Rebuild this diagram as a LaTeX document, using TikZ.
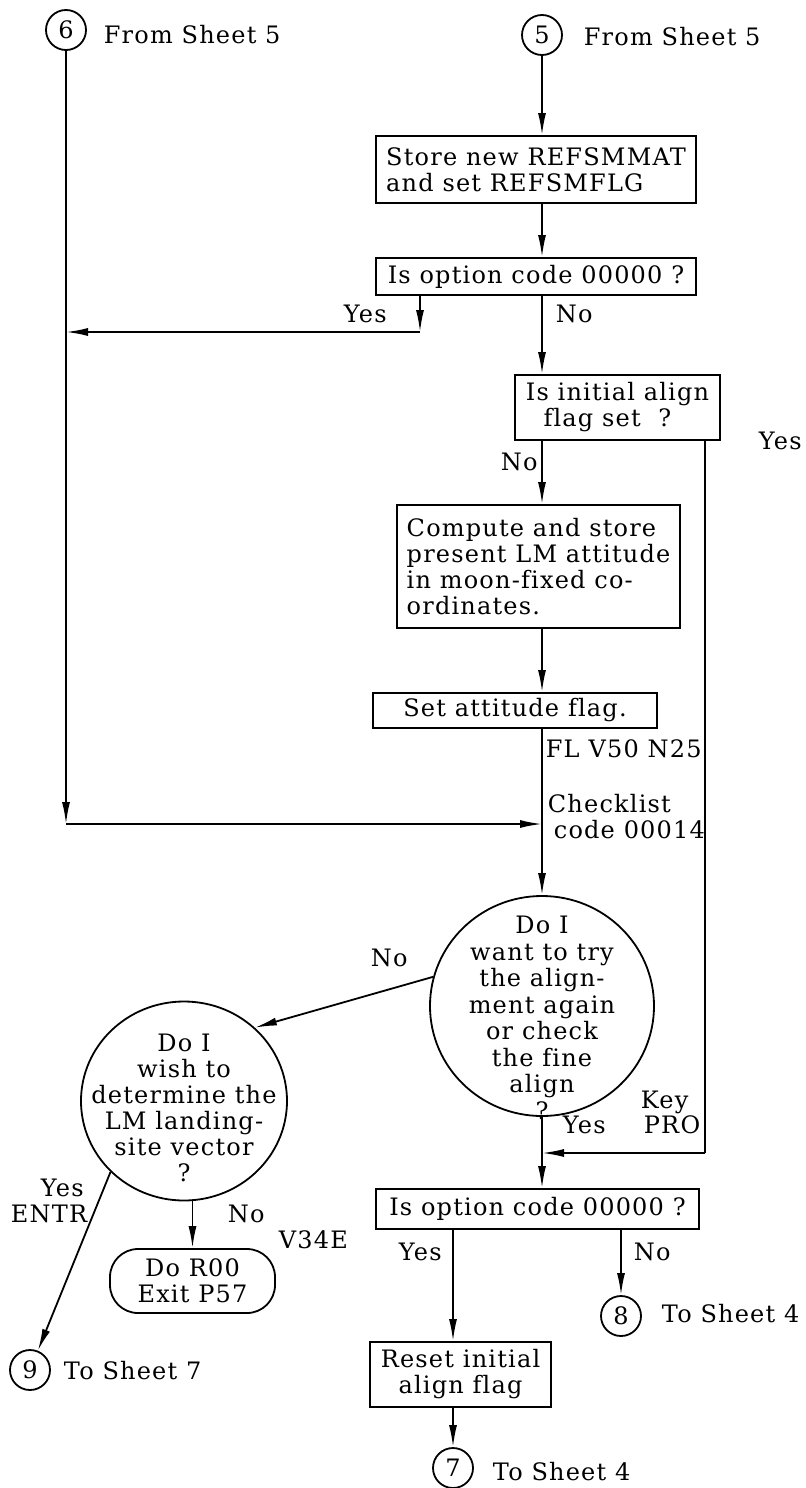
\documentclass[tikz,border=0pt]{standalone}
\usepackage{fontspec}
\setmainfont{DejaVu Serif}[LetterSpace=5,Ligatures=NoCommon]
\usetikzlibrary{shapes.geometric,arrows.meta}
\begin{document}
\begin{tikzpicture}[x=0.5pt,y=-0.5pt,line width=0.9pt,
  font=\fontsize{12}{13}\selectfont,
  arr/.style={-{Latex[length=11pt,width=4pt]}},
  conn/.style={draw,circle,minimum size=20pt,inner sep=0pt},
  proc/.style={draw,rectangle,inner sep=0pt,align=left},
  term/.style={draw,rectangle,rounded corners=14pt,inner sep=0pt,align=center},
  decision/.style={draw,ellipse,inner sep=0pt},
  txt/.style={anchor=base west,inner sep=0pt}]
\useasboundingbox (0,0) rectangle (806,1488);
\node[conn] (c6) at (66,30) {6};
\node[txt] (from6) at (103,43) {From Sheet 5};
\node[conn] (c5) at (542,35) {5};
\node[txt] (from5) at (583,45) {From Sheet 5};
\node[proc,minimum width=160pt,minimum height=33.5pt] (store) at (536,169.5) {Store new REFSMMAT\\and set REFSMFLG};
\node[proc,minimum width=160pt,minimum height=18.5pt] (opt1) at (536,276.5) {Is option code 00000 ?};
\node[proc,minimum width=102.5pt,minimum height=32.5pt] (init) at (617.5,407.5) {Is initial align\\\ \ flag set \ ?};
\node[proc,minimum width=141.5pt,minimum height=61.5pt] (comp) at (538.5,566.5) {Compute and store\\present LM attitude\\in moon-fixed co-\\ordinates.};
\node[proc,minimum width=142pt,minimum height=17.5pt] (att) at (515,710.5) {Set attitude flag.};
\node[decision,minimum width=112pt,minimum height=110pt] (again) at (542,1006) {};
\node[align=center,inner sep=0pt,font=\fontsize{12}{13.25}\selectfont] (again-txt) at (542,1018) {Do I\\want to try\\the align-\\ment again\\or check\\the fine\\align\\?};
\node[decision,minimum width=103pt,minimum height=99.5pt] (land) at (184,1101) {};
\node[align=center,inner sep=0pt] (land-txt) at (184,1108) {Do I\\wish to\\determine the\\LM landing-\\site vector\\?};
\node[term,minimum width=82.5pt,minimum height=32pt] (exit) at (192.5,1281) {Do R00\\Exit P57};
\node[proc,minimum width=161.5pt,minimum height=20pt] (opt2) at (537.5,1209) {Is option code 00000 ?};
\node[proc,align=center,minimum width=90.5pt,minimum height=32.5pt] (reset) at (460.5,1374.5) {Reset initial\\align flag};
\node[conn] (c8) at (621,1316) {8};
\node[conn] (c7) at (453,1468) {7};
\node[conn] (c9) at (30,1370) {9};
\node[txt] (to8) at (661,1322) {To Sheet 4};
\node[txt] (to7) at (492,1480) {To Sheet 4};
\node[txt] (to9) at (63,1379) {To Sheet 7};
\node[txt] (yes1) at (343,322) {Yes};
\node[txt] (no1) at (555,322) {No};
\node[txt] (no2) at (500,470) {No};
\node[txt] (yes2) at (758,449) {Yes};
\node[txt] (fl) at (545,757) {FL V50 N25};
\node[txt] (check1) at (547,812) {Checklist};
\node[txt] (check2) at (553,838) {code 00014};
\node[txt] (no3) at (370,966) {No};
\node[txt] (yes3) at (40,1196) {Yes};
\node[txt] (entr) at (10,1222) {ENTR};
\node[txt] (no4) at (227,1222) {No};
\node[txt] (v34e) at (278,1248) {V34E};
\node[txt] (yes4) at (562,1133) {Yes};
\node[txt] (key) at (640,1108) {Key};
\node[txt] (pro) at (643,1133) {PRO};
\node[txt] (yes5) at (398,1260) {Yes};
\node[txt] (no5) at (633,1260) {No};
\coordinate (j1) at (420,332);
\coordinate (j0) at (66,332);
\coordinate (j2) at (66,824);
\coordinate (j3) at (705,1153);
\path[draw,arr] (c5) -- (store.north -| c5);
\path[draw,arr] (store.south -| c5) -- (opt1.north -| c5);
\path[draw,arr] (opt1.south -| j1) -- (j1);
\path[draw,arr] (j1) -- (j0);
\path[draw,arr] (opt1.south -| c5) -- (init.north -| c5);
\path[draw,arr] (init.south -| c5) -- (comp.north -| c5);
\path[draw,arr] (comp.south -| c5) -- (att.north -| c5);
\path[draw,arr] (att.south -| c5) -- (again.north);
\path[draw,arr] (c6) -- (j2);
\path[draw,arr] (j2) -- (j2 -| c5);
\path[draw] (init.south -| j3) -- (j3);
\path[draw,arr] (j3) -- (j3 -| c5);
\path[draw,arr] (again.south) -- (opt2.north -| c5);
\path[draw,arr] (again.165) -- (land.46);
\path[draw,arr] (land.224) -- (c9);
\path[draw,arr] (land.south -| exit) -- (exit);
\path[draw,arr] (opt2.south -| c7) -- (reset.north -| c7);
\path[draw,arr] (opt2.south -| c8) -- (c8);
\path[draw,arr] (reset.south -| c7) -- (c7);
\end{tikzpicture}
\end{document}
